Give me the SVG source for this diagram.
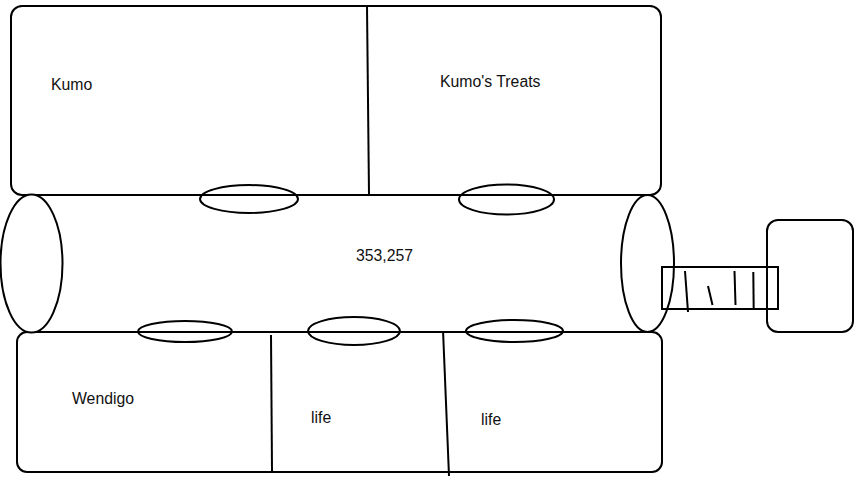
<svg xmlns="http://www.w3.org/2000/svg" width="854" height="480" viewBox="0 0 854 480">
<style>
.s{fill:none;stroke:#000;stroke-width:2}
.w{fill:#fff;stroke:#000;stroke-width:2}
.t{font-family:"Liberation Sans",Arial,sans-serif;font-size:15.8px;fill:#111}
</style>
<rect width="854" height="480" fill="#fff"/>
<g id="top-box">
<rect class="w" x="11" y="6" width="650" height="189" rx="11"/>
<line class="s" x1="367" y1="6" x2="369" y2="195"/>
<text class="t" x="51" y="90">Kumo</text>
<text class="t" x="440" y="87">Kumo's Treats</text>
</g>
<g id="bottom-box">
<rect class="w" x="17" y="332" width="645" height="140" rx="10"/>
<line class="s" x1="271" y1="335" x2="272" y2="471"/>
<line class="s" x1="443" y1="330" x2="449" y2="476"/>
<text class="t" x="72" y="404">Wendigo</text>
<text class="t" x="311" y="423">life</text>
<text class="t" x="481" y="425">life</text>
</g>
<g id="cylinder">
<rect x="31" y="195" width="617" height="137" fill="#fff"/>
<line class="s" x1="31" y1="195" x2="648" y2="195"/>
<line class="s" x1="31" y1="332" x2="648" y2="332"/>
<ellipse class="w" cx="31.5" cy="263.5" rx="31" ry="69"/>
<ellipse class="w" cx="647.5" cy="263.5" rx="26.5" ry="68.5"/>
<text class="t" x="356" y="261">353,257</text>
</g>
<g id="rings">
<ellipse class="s" cx="249" cy="199" rx="49" ry="14"/>
<ellipse class="s" cx="506.5" cy="199.5" rx="47.5" ry="15"/>
<ellipse class="s" cx="185" cy="331.5" rx="47" ry="10.5"/>
<ellipse class="s" cx="354" cy="331" rx="46" ry="14"/>
<ellipse class="s" cx="514.5" cy="331" rx="48.5" ry="11"/>
</g>
<g id="end-box">
<rect class="w" x="767" y="220" width="86" height="112" rx="11"/>
</g>
<g id="connectors">
<rect class="s" x="662" y="267" width="116" height="42"/>
<line class="s" x1="685" y1="271" x2="688" y2="312"/>
<line class="s" x1="708" y1="286" x2="712.5" y2="305"/>
<line class="s" x1="734.5" y1="271" x2="735.5" y2="305"/>
<line class="s" x1="753.3" y1="272" x2="753.7" y2="310"/>
</g>
</svg>
